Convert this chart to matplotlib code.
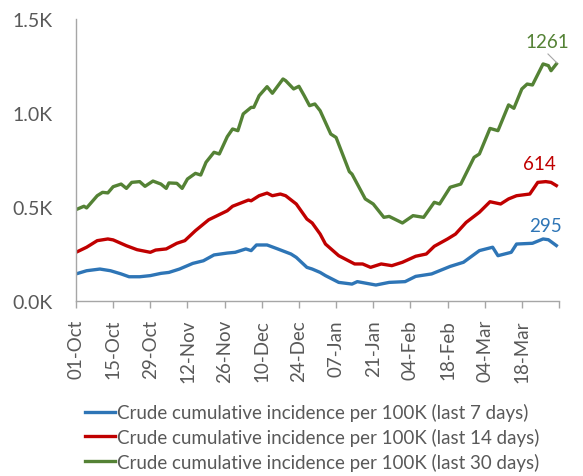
import matplotlib
matplotlib.use("Agg")
import matplotlib.pyplot as plt
from matplotlib.lines import Line2D

plt.rcParams['font.family'] = ['Lato', 'DejaVu Sans']

# x = days since 01-Oct
tick_labels = ["01-Oct", "15-Oct", "29-Oct", "12-Nov", "26-Nov", "10-Dec", "24-Dec",
               "07-Jan", "21-Jan", "04-Feb", "18-Feb", "04-Mar", "18-Mar", ""]
tick_days = [0, 14, 28, 42, 56, 70, 84, 98, 112, 126, 140, 154, 168, 182]

series_names = ["Crude cumulative incidence per 100K (last 7 days)",
                "Crude cumulative incidence per 100K (last 14 days)",
                "Crude cumulative incidence per 100K (last 30 days)"]
colors = ["#2E75B6", "#C00000", "#548235"]

days_7 = [0, 4, 9, 13, 17, 20, 24, 28, 32, 35, 39, 44, 48, 52, 57, 60, 64, 66, 68, 72,
          76, 81, 83, 87, 89, 92, 94, 99, 104, 106, 113, 118, 124, 128, 134, 141, 146,
          152, 157, 159, 164, 166, 172, 176, 178, 181]
vals_7 = [144, 161, 170, 161, 144, 129, 129, 135, 147, 152, 170, 200, 214, 245, 255, 259,
          277, 268, 298, 298, 277, 250, 232, 179, 170, 152, 135, 99, 90, 103, 85, 99, 103,
          131, 144, 184, 206, 268, 286, 241, 259, 303, 307, 330, 326, 295]

days_14 = [0, 4, 8, 12, 14, 19, 23, 28, 30, 34, 38, 41, 45, 50, 57, 59, 65, 66, 69, 72,
           74, 77, 79, 83, 87, 89, 92, 94, 99, 105, 108, 111, 115, 119, 123, 128, 132,
           135, 140, 143, 147, 152, 156, 160, 163, 166, 171, 174, 177, 179, 181]
vals_14 = [259, 286, 321, 330, 325, 294, 273, 259, 271, 277, 307, 321, 374, 432, 480, 504,
           537, 533, 560, 574, 560, 569, 560, 516, 436, 415, 356, 303, 241, 197, 197, 179,
           197, 188, 206, 238, 250, 291, 330, 356, 418, 472, 528, 516, 543, 560, 569, 631,
           635, 631, 614]

days_30 = [0, 3, 4, 8, 10, 12, 14, 17, 19, 21, 24, 26, 29, 32, 34, 35, 38, 40, 42, 45,
           47, 49, 52, 54, 57, 59, 61, 63, 66, 67, 69, 72, 74, 78, 79, 82, 84, 86, 88, 90,
           92, 96, 98, 103, 104, 109, 112, 116, 118, 123, 127, 131, 135, 137, 141, 145,
           150, 152, 156, 159, 163, 165, 168, 170, 172, 176, 178, 179, 181]
vals_30 = [486, 504, 495, 560, 578, 575, 608, 622, 599, 631, 635, 610, 638, 622, 599, 628,
           626, 599, 649, 679, 670, 738, 791, 782, 874, 915, 906, 995, 1030, 1030, 1092,
           1140, 1105, 1181, 1172, 1128, 1142, 1092, 1039, 1048, 1012, 888, 870, 688, 675,
           543, 516, 445, 450, 415, 454, 445, 525, 516, 605, 622, 764, 782, 918, 906, 1043,
           1025, 1128, 1154, 1149, 1261, 1252, 1225, 1261]

yticks = [0, 500, 1000, 1500]
ytick_labels = ["0.0K", "0.5K", "1.0K", "1.5K"]

W, H = 583, 477
fig = plt.figure(figsize=(W / 100, H / 100), dpi=100)
ax = fig.add_axes([76 / W, 1 - 302 / H, (559 - 76) / W, (302 - 20) / H])

gray = "#595959"
axis_gray = "#A6A6A6"
lw = 2.4
ax.plot(days_7, vals_7, color=colors[0], lw=lw, solid_joinstyle="round")
ax.plot(days_14, vals_14, color=colors[1], lw=lw, solid_joinstyle="round")
ax.plot(days_30, vals_30, color=colors[2], lw=lw, solid_joinstyle="round")

ax.set_xlim(0, 182)
ax.set_ylim(0, 1500)
ax.set_xticks(tick_days)
ax.set_xticklabels(tick_labels, rotation=90, color=gray, fontsize=13.5)
ax.set_yticks(yticks)
ax.set_yticklabels(ytick_labels, color=gray, fontsize=14)
ax.tick_params(axis="y", length=0, pad=17)
ax.tick_params(axis="x", length=5, width=1, color=axis_gray, pad=8, direction="out")
for s in ["top", "right"]:
    ax.spines[s].set_visible(False)
for s in ["left", "bottom"]:
    ax.spines[s].set_color(axis_gray)
    ax.spines[s].set_linewidth(1)

# data labels (positions in pixels from top-left)
label_pos = [(545, 226), (539, 165), (547, 42)]
for vals, c, (px, py) in zip([vals_7, vals_14, vals_30], colors, label_pos):
    fig.text(px / W, 1 - py / H, str(vals[-1]), color=c, fontsize=13.5,
             ha="center", va="center")
# leader line for 1261
fig.add_artist(Line2D([548 / W, 557 / W], [1 - 55 / H, 1 - 64 / H], color=axis_gray, lw=0.8))

handles = [Line2D([], [], color=c, lw=lw) for c in colors]
leg = fig.legend(handles, series_names, loc="upper left", bbox_to_anchor=(85 / W, 1 - 404 / H),
                 frameon=False, fontsize=13.5, labelcolor=gray, handlelength=1.6,
                 handletextpad=0.1, labelspacing=0.36, borderaxespad=0, borderpad=0)

fig.savefig("out.png", dpi=100)
